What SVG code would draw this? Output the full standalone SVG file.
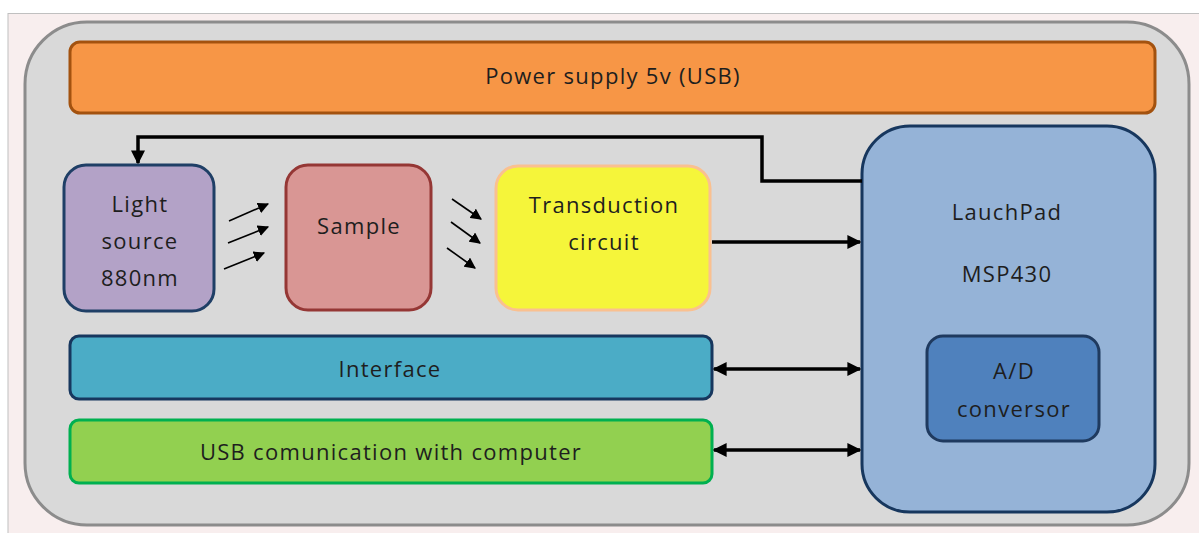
<svg xmlns="http://www.w3.org/2000/svg" width="1199" height="533" viewBox="0 0 1199 533">
<defs>
<style>
.t{font-family:"Open Sans","Liberation Sans",sans-serif;font-size:22px;letter-spacing:1.3px;fill:#1e1e1e;text-anchor:middle;dominant-baseline:central}
.c{fill:none;stroke:#000;stroke-width:3.5}
.s{fill:none;stroke:#000;stroke-width:1.6}
</style>
<marker id="ah" viewBox="0 0 10 10" refX="9" refY="5" markerWidth="4" markerHeight="4" orient="auto-start-reverse" markerUnits="strokeWidth"><path d="M0,0L10,5L0,10z" fill="#000"/></marker>
<marker id="sa" viewBox="0 0 10 10" refX="9" refY="5" markerWidth="7" markerHeight="7" orient="auto" markerUnits="strokeWidth"><path d="M0,0L10,5L0,10z" fill="#000"/></marker>
</defs>
<rect x="0" y="0" width="1199" height="533" fill="#fff"/>
<rect x="8" y="13.5" width="1195" height="525" fill="#f8eeee" stroke="#c0c0c0" stroke-width="1"/>
<rect id="frame" x="25" y="22" width="1164" height="503" rx="62" fill="#d9d9d9" stroke="#8c8c8c" stroke-width="3"/>
<g id="power"><rect x="70" y="42" width="1085" height="71" rx="10" fill="#f79646" stroke="#a3520f" stroke-width="3"/><text class="t" x="613" y="75">Power supply 5v (USB)</text></g>
<g id="light"><rect x="64" y="165" width="150" height="146" rx="22" fill="#b3a2c7" stroke="#1f3f66" stroke-width="3"/><text class="t" x="140" y="203">Light</text><text class="t" x="140" y="240">source</text><text class="t" x="140" y="277">880nm</text></g>
<g id="sample"><rect x="286" y="165" width="145" height="145" rx="22" fill="#d99694" stroke="#953735" stroke-width="3"/><text class="t" x="359" y="225">Sample</text></g>
<g id="transduction"><rect x="496" y="166" width="214" height="144" rx="22" fill="#f5f53a" stroke="#fac090" stroke-width="3"/><text class="t" x="604" y="204">Transduction</text><text class="t" x="604" y="241">circuit</text></g>
<g id="launchpad"><rect x="862" y="126" width="293" height="386" rx="48" fill="#95b3d7" stroke="#17375e" stroke-width="3"/><text class="t" x="1007" y="211">LauchPad</text><text class="t" x="1007" y="273">MSP430</text></g>
<g id="adc"><rect x="927" y="336" width="172" height="105" rx="16" fill="#4f81bd" stroke="#1f3a5f" stroke-width="3"/><text class="t" x="1014" y="370">A/D</text><text class="t" x="1014" y="408">conversor</text></g>
<g id="interface"><rect x="70" y="336" width="642" height="63" rx="9" fill="#4bacc6" stroke="#17375e" stroke-width="3"/><text class="t" x="390" y="368">Interface</text></g>
<g id="usb"><rect x="70" y="420" width="642" height="63" rx="9" fill="#92d050" stroke="#00b050" stroke-width="3"/><text class="t" x="391" y="451">USB comunication with computer</text></g>
<g id="connectors">
<path class="c" d="M862,181H762V137H138V163" marker-end="url(#ah)"/>
<path class="c" d="M712,242H860" marker-end="url(#ah)"/>
<path class="c" d="M714,369H860" marker-start="url(#ah)" marker-end="url(#ah)"/>
<path class="c" d="M714,450H860" marker-start="url(#ah)" marker-end="url(#ah)"/>
<path class="s" d="M229,221L268,204" marker-end="url(#sa)"/>
<path class="s" d="M228,243L268,227" marker-end="url(#sa)"/>
<path class="s" d="M224,269L264,253" marker-end="url(#sa)"/>
<path class="s" d="M452,199L481,219" marker-end="url(#sa)"/>
<path class="s" d="M451,222L480,243" marker-end="url(#sa)"/>
<path class="s" d="M447,248L475,268" marker-end="url(#sa)"/>
</g>
</svg>
